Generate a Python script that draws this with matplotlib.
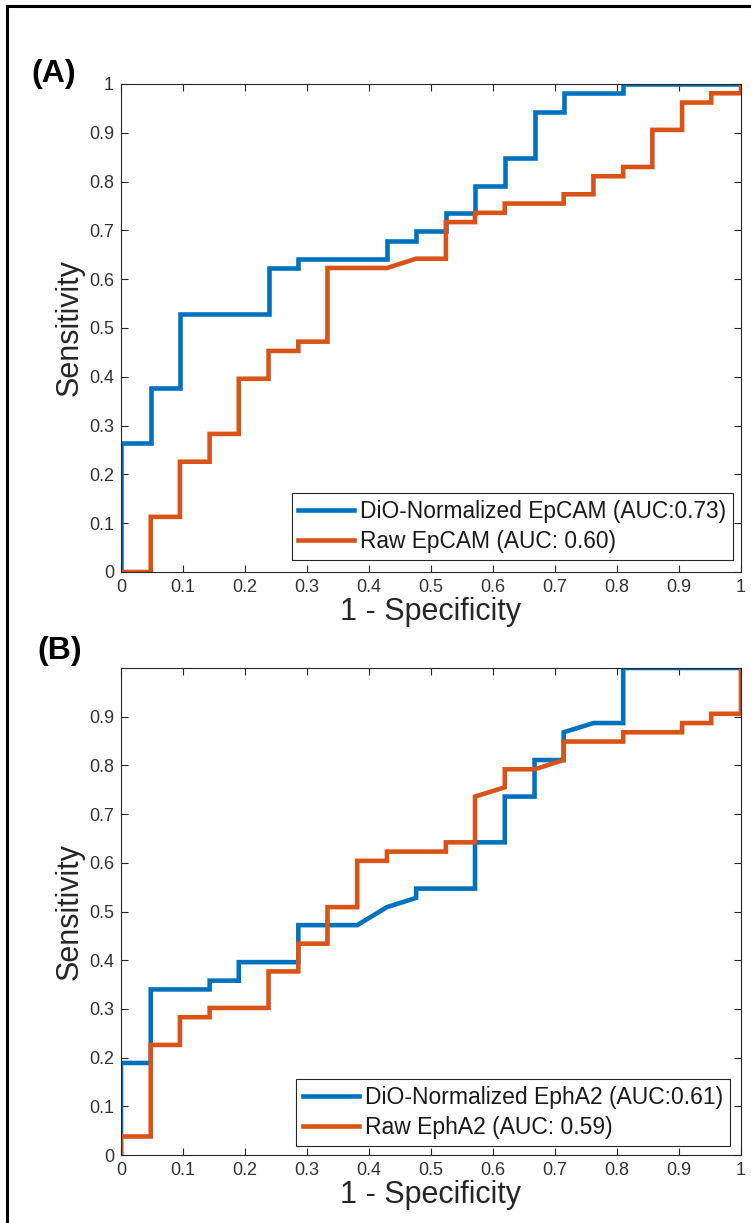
import matplotlib
matplotlib.use("Agg")
import matplotlib.pyplot as plt
from matplotlib.lines import Line2D

plt.rcParams['font.family'] = ['Liberation Sans', 'DejaVu Sans']

# ---------------- data (ROC points) ----------------
# Panel A: EpCAM
fpr_a_dio = [0, 0, 0.048, 0.048, 0.095, 0.095, 0.238, 0.238, 0.286, 0.286, 0.429, 0.429,
             0.476, 0.476, 0.524, 0.524, 0.571, 0.571, 0.619, 0.619, 0.667, 0.667, 0.714,
             0.714, 0.810, 0.810, 1.0]
tpr_a_dio = [0, 0.264, 0.264, 0.377, 0.377, 0.528, 0.528, 0.623, 0.623, 0.642, 0.642, 0.679,
             0.679, 0.698, 0.698, 0.736, 0.736, 0.792, 0.792, 0.849, 0.849, 0.943, 0.943,
             0.981, 0.981, 1.0, 1.0]
fpr_a_raw = [0, 0.048, 0.048, 0.095, 0.095, 0.143, 0.143, 0.190, 0.190, 0.238, 0.238, 0.286,
             0.286, 0.333, 0.333, 0.429, 0.476, 0.524, 0.524, 0.571, 0.571, 0.619, 0.619,
             0.714, 0.714, 0.762, 0.762, 0.810, 0.810, 0.857, 0.857, 0.905, 0.905, 0.952,
             0.952, 1.0, 1.0]
tpr_a_raw = [0, 0, 0.113, 0.113, 0.226, 0.226, 0.283, 0.283, 0.396, 0.396, 0.453, 0.453,
             0.472, 0.472, 0.623, 0.623, 0.642, 0.642, 0.717, 0.717, 0.736, 0.736, 0.755,
             0.755, 0.774, 0.774, 0.811, 0.811, 0.830, 0.830, 0.906, 0.906, 0.962, 0.962,
             0.981, 0.981, 1.0]

# Panel B: EphA2
fpr_b_dio = [0, 0, 0.048, 0.048, 0.143, 0.143, 0.190, 0.190, 0.286, 0.286, 0.381, 0.429,
             0.476, 0.476, 0.571, 0.571, 0.619, 0.619, 0.667, 0.667, 0.714, 0.714, 0.762,
             0.810, 0.810, 1.0]
tpr_b_dio = [0, 0.189, 0.189, 0.340, 0.340, 0.358, 0.358, 0.396, 0.396, 0.472, 0.472, 0.509,
             0.528, 0.547, 0.547, 0.642, 0.642, 0.736, 0.736, 0.811, 0.811, 0.868, 0.887,
             0.887, 1.0, 1.0]
fpr_b_raw = [0, 0, 0.048, 0.048, 0.095, 0.095, 0.143, 0.143, 0.238, 0.238, 0.286, 0.286,
             0.333, 0.333, 0.381, 0.381, 0.429, 0.429, 0.524, 0.524, 0.571, 0.571, 0.619,
             0.619, 0.667, 0.714, 0.714, 0.810, 0.810, 0.905, 0.905, 0.952, 0.952, 1.0, 1.0]
tpr_b_raw = [0, 0.038, 0.038, 0.226, 0.226, 0.283, 0.283, 0.302, 0.302, 0.377, 0.377, 0.434,
             0.434, 0.509, 0.509, 0.604, 0.604, 0.623, 0.623, 0.642, 0.642, 0.736, 0.755,
             0.792, 0.792, 0.811, 0.849, 0.849, 0.868, 0.868, 0.887, 0.887, 0.906, 0.906, 1.0]

labels_a = ["DiO-Normalized EpCAM (AUC:0.73)", "Raw EpCAM (AUC: 0.60)"]
labels_b = ["DiO-Normalized EphA2 (AUC:0.61)", "Raw EphA2 (AUC: 0.59)"]
xticks = [0, 0.1, 0.2, 0.3, 0.4, 0.5, 0.6, 0.7, 0.8, 0.9, 1]
xticklabels = ["0", "0.1", "0.2", "0.3", "0.4", "0.5", "0.6", "0.7", "0.8", "0.9", "1"]
yticks_a = xticks
yticklabels_a = xticklabels
yticks_b = xticks[:-1]
yticklabels_b = xticklabels[:-1]

BLUE = "#0072BD"
RED = "#D95319"
AXC = "#262626"

W, H = 751, 1223
fig = plt.figure(figsize=(W / 100, H / 100), dpi=100)


def px_axes(left, top, right, bottom):
    return fig.add_axes([left / W, 1 - bottom / H, (right - left) / W, (bottom - top) / H])


def style(ax, yt, ytl):
    ax.set_xlim(0, 1)
    ax.set_ylim(0, 1)
    ax.set_xticks(xticks)
    ax.set_xticklabels(xticklabels)
    ax.set_yticks(yt)
    ax.set_yticklabels(ytl)
    ax.tick_params(direction='in', length=5, width=0.8, top=True, right=True,
                   labelsize=13, colors=AXC, labelcolor="#333333", pad=5)
    for s in ax.spines.values():
        s.set_color(AXC)
        s.set_linewidth(0.8)
    ax.set_xlabel("1 - Specificity", fontsize=22, color=AXC, labelpad=1)
    ax.set_ylabel("Sensitivity", fontsize=22, color=AXC, labelpad=3)


def legend(ax, anchor, fs):
    leg = ax.legend(loc='lower right', bbox_to_anchor=anchor, borderaxespad=0,
                    fontsize=fs, handlelength=2.45, labelspacing=0.3, borderpad=0.3,
                    handletextpad=0.25, fancybox=False, framealpha=1, edgecolor=AXC)
    leg.get_frame().set_linewidth(0.8)
    for t in leg.get_texts():
        t.set_color("#1a1a1a")
    return leg


axA = px_axes(121, 84, 741, 572)
axA.plot(fpr_a_dio, tpr_a_dio, color=BLUE, lw=3.3, label=labels_a[0], solid_joinstyle='miter')
axA.plot(fpr_a_raw, tpr_a_raw, color=RED, lw=3.3, label=labels_a[1], solid_joinstyle='miter')
style(axA, yticks_a, yticklabels_a)
legend(axA, (0.987, 0.0246), 16.4)

axB = px_axes(121, 668, 741, 1155)
axB.plot(fpr_b_dio, tpr_b_dio, color=BLUE, lw=3.3, label=labels_b[0], solid_joinstyle='miter')
axB.plot(fpr_b_raw, tpr_b_raw, color=RED, lw=3.3, label=labels_b[1], solid_joinstyle='miter')
style(axB, yticks_b, yticklabels_b)
legend(axB, (0.982, 0.0185), 16.5)

fig.text(54 / W, 1 - 74 / H, "(A)", fontsize=23, fontweight='bold', ha='center', va='center')
fig.text(60 / W, 1 - 651 / H, "(B)", fontsize=23, fontweight='bold', ha='center', va='center')

# outer frame (left and top edges visible)
fig.add_artist(Line2D([7 / W, 7 / W], [0, 1 - 6 / H], color='black', lw=2.2,
                      transform=fig.transFigure, solid_capstyle='projecting'))
fig.add_artist(Line2D([7 / W, 1], [1 - 6 / H, 1 - 6 / H], color='black', lw=2.2,
                      transform=fig.transFigure, solid_capstyle='projecting'))

fig.savefig("out.png", dpi=100)
